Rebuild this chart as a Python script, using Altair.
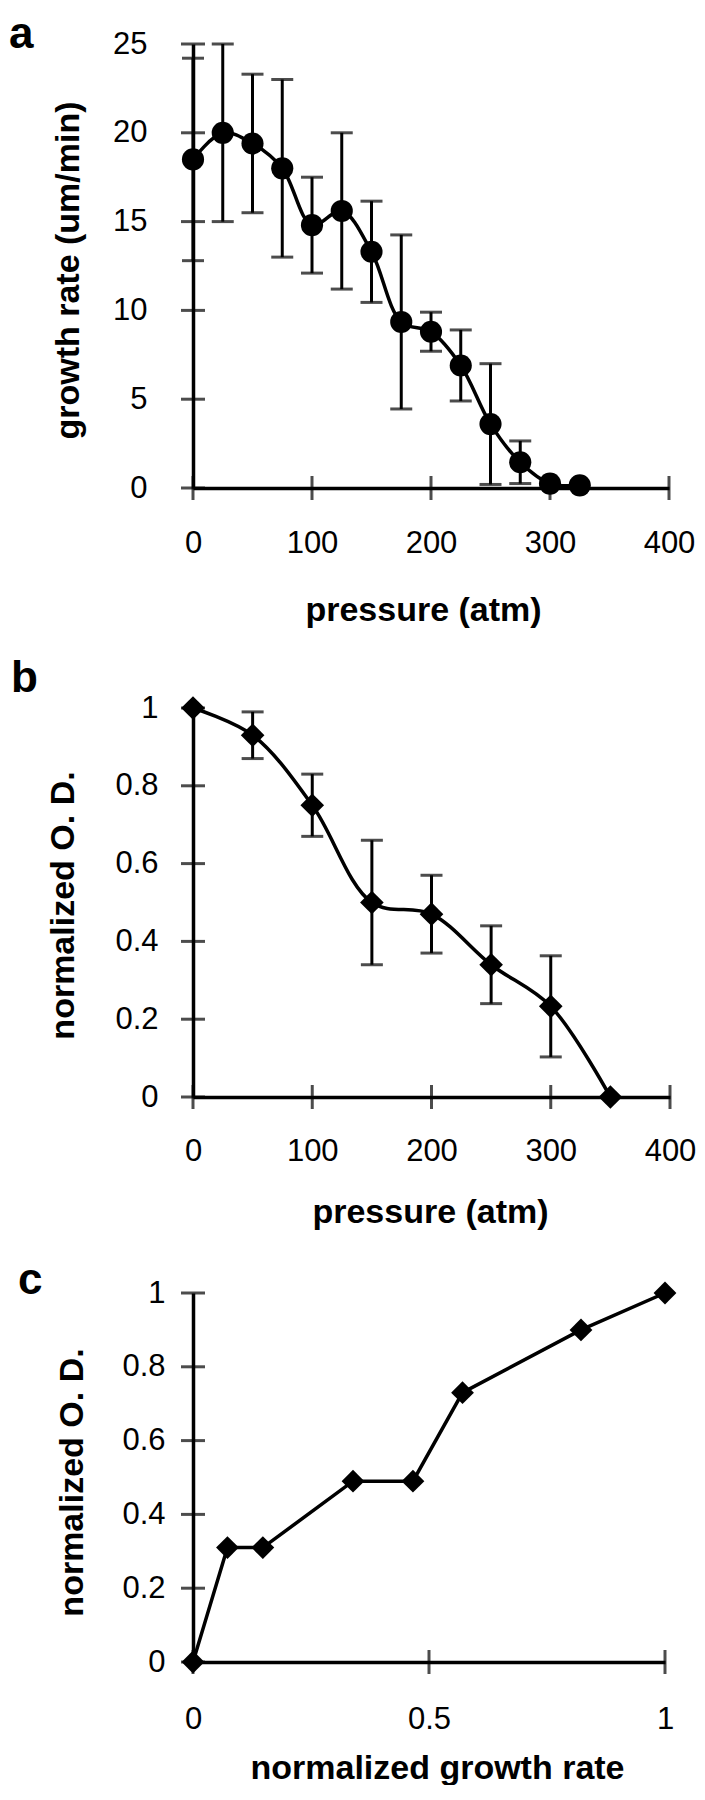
import altair as alt
import pandas as pd

FONT = "Liberation Sans"
LW = 3.5

letters = ["a", "b", "c"]

# Panel a: growth rate vs pressure
a_pressure = [0, 25, 50, 75, 100, 125, 150, 175, 200, 225, 250, 275, 300, 325]
a_rate = [18.5, 20.0, 19.4, 18.0, 14.8, 15.6, 13.3, 9.35, 8.8, 6.9, 3.6, 1.45, 0.25, 0.15]
a_err = [5.7, 5.0, 3.9, 5.0, 2.7, 4.4, 2.85, 4.9, 1.1, 2.0, 3.4, 1.2, 0.0, 0.0]
a_xticks = [0, 100, 200, 300, 400]
a_yticks = [0, 5, 10, 15, 20, 25]

# Panel b: normalized O.D. vs pressure
b_pressure = [0, 50, 100, 150, 200, 250, 300, 350]
b_od = [1.0, 0.93, 0.75, 0.50, 0.47, 0.34, 0.233, 0.0]
b_err = [0.0, 0.06, 0.08, 0.16, 0.10, 0.10, 0.13, 0.0]
b_xticks = [0, 100, 200, 300, 400]
b_yticks = [0, 0.2, 0.4, 0.6, 0.8, 1.0]

# Panel c: normalized O.D. vs normalized growth rate
c_growth = [0.0, 0.073, 0.148, 0.339, 0.466, 0.571, 0.822, 1.0]
c_od = [0.0, 0.31, 0.31, 0.49, 0.49, 0.73, 0.90, 1.0]
c_xticks = [0, 0.5, 1]
c_yticks = [0, 0.2, 0.4, 0.6, 0.8, 1.0]


def panel(x, y, err, xticks, yticks, xdom, ydom, w, h, shape, size, interp,
          xtitle, ytitle, letter, lay, xfmt, yfmt, guard=False):
    xs = alt.Scale(domain=xdom, nice=False, zero=False)
    ys = alt.Scale(domain=ydom, nice=False, zero=False)
    xaxis = alt.Axis(
        values=xticks, format=xfmt, title=xtitle, grid=False, ticks=False, tickSize=0,
        domainColor="black", domainWidth=LW, labelFont=FONT, labelFontSize=31,
        labelColor="black", labelBaseline="alphabetic", labelPadding=lay["xlp"],
        labelAlign="center", labelFlush=False, labelOverlap=False,
        titleFont=FONT, titleFontSize=34, titleFontWeight="bold", titleColor="black",
        titleX=lay["xtx"], titleY=lay["xty"], titleBaseline="alphabetic", titleAlign="center")
    yaxis = alt.Axis(
        values=yticks, format=yfmt, title=ytitle, grid=False, ticks=False, tickSize=0,
        domainColor="black", domainWidth=LW, labelFont=FONT, labelFontSize=31,
        labelColor="black", labelBaseline="middle", labelAlign="right",
        labelPadding=lay["ylp"], labelFlush=False, labelOverlap=False,
        titleFont=FONT, titleFontSize=34, titleFontWeight="bold", titleColor="black",
        titleX=lay["ytx"], titleY=lay["yty"], titleBaseline="alphabetic",
        titleAlign="center", titleAngle=270)

    def X(f):
        return alt.X(f, scale=xs, axis=xaxis)

    def Y(f):
        return alt.Y(f, scale=ys, axis=yaxis)

    df = pd.DataFrame({"x": x, "y": y})
    layers = []

    layers.append(alt.Chart(df).mark_line(interpolate=interp, strokeWidth=LW, color="black").encode(
        x=X("x:Q"), y=Y("y:Q")))

    ydf = pd.DataFrame({"x": [xdom[0]] * len(yticks), "y": yticks})
    layers.append(alt.Chart(ydf).mark_tick(orient="horizontal", size=24, thickness=3, color="black")
                  .encode(x=X("x:Q"), y=Y("y:Q")))
    xdf = pd.DataFrame({"x": xticks, "y": [ydom[0]] * len(xticks)})
    layers.append(alt.Chart(xdf).mark_tick(orient="vertical", size=24, thickness=3, color="black")
                  .encode(x=X("x:Q"), y=Y("y:Q")))

    if err is not None:
        edf = pd.DataFrame({"x": x, "y": y, "e": err})
        edf = edf[edf["e"] > 0].copy()
        edf["lo"] = edf["y"] - edf["e"]
        edf["hi"] = edf["y"] + edf["e"]
        layers.append(alt.Chart(edf).mark_rule(strokeWidth=3, color="black").encode(
            x=X("x:Q"), y=Y("lo:Q"), y2="hi:Q"))
        for col in ["lo", "hi"]:
            layers.append(alt.Chart(edf).mark_tick(orient="horizontal", size=22, thickness=3, color="black")
                          .encode(x=X("x:Q"), y=Y(f"{col}:Q")))

    layers.append(alt.Chart(df).mark_point(shape=shape, filled=True, size=size, opacity=1,
                                           color="black", strokeWidth=0).encode(
        x=X("x:Q"), y=Y("y:Q")))

    ldf = pd.DataFrame({"t": [letter]})
    layers.append(alt.Chart(ldf).mark_text(font=FONT, fontSize=44, fontWeight="bold", align="left",
                                           baseline="alphabetic", color="black").encode(
        text="t:N", x=alt.value(lay["lx"]), y=alt.value(lay["ly"])))

    if guard:
        # invisible spacer keeping a small margin at the left edge
        layers.append(alt.Chart(ldf).mark_rule(strokeWidth=1, opacity=0).encode(
            x=alt.value(-185), x2=alt.value(-184), y=alt.value(0)))

    return alt.layer(*layers).properties(width=w, height=h)


pa = panel(a_pressure, a_rate, a_err, a_xticks, a_yticks, [0, 400], [0, 25], 476, 444,
           "circle", 490, "catmull-rom", "pressure (atm)", "growth rate (um/min)", letters[0],
           dict(xlp=64, xtx=230, xty=132, ylp=46, ytx=-115, yty=226, lx=-184, ly=4),
           "d", "d", guard=True)
pb = panel(b_pressure, b_od, b_err, b_xticks, b_yticks, [0, 400], [0, 1], 477, 389,
           "diamond", 560, "catmull-rom", "pressure (atm)", "normalized O. D.", letters[1],
           dict(xlp=63, xtx=237, xty=125, ylp=35, ytx=-120, yty=197, lx=-182, ly=-16),
           "d", ".1~f")
pc = panel(c_growth, c_od, None, c_xticks, c_yticks, [0, 1], [0, 1], 472, 369,
           "diamond", 520, "linear", "normalized growth rate", "normalized O. D.", letters[2],
           dict(xlp=66, xtx=244, xty=116, ylp=28, ytx=-111, yty=189, lx=-175, ly=1),
           ".1~f", ".1~f")

chart = alt.vconcat(pa, pb, pc, spacing=30).properties(
    padding={"left": 0, "top": 5, "right": 0, "bottom": 0}
).configure_view(stroke=None)

chart.save("out.html", embed_options={"renderer": "svg", "actions": False})
